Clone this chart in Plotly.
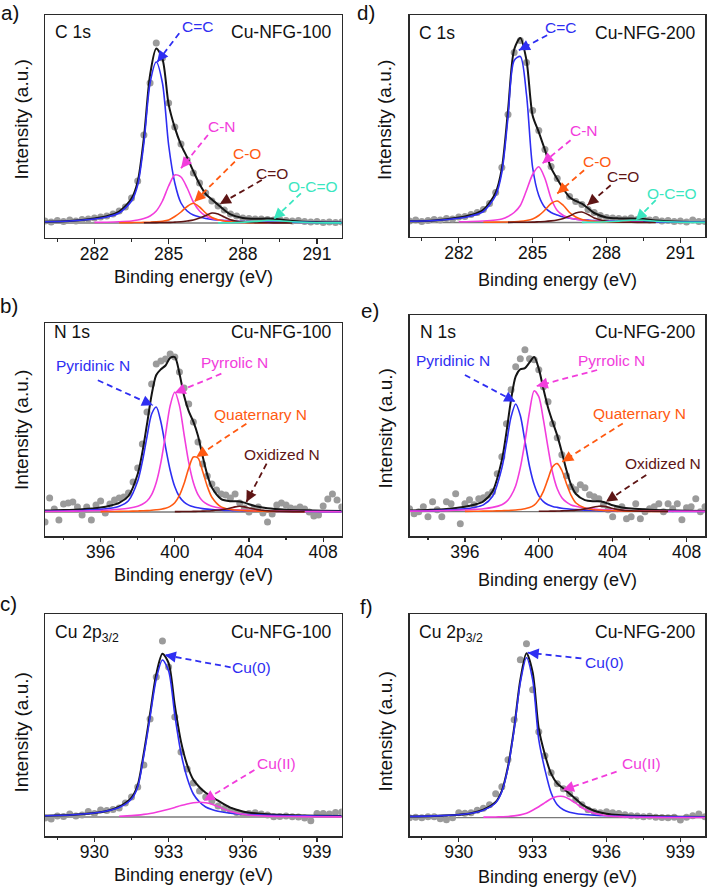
import math
import plotly.graph_objects as go

# ------------------------------------------------------------------ data
# C 1s (panels a, d): fitted curves sampled on this energy grid (eV)
c1s_energy = [280, 281, 282, 282.5, 283, 283.5, 283.75, 284, 284.25, 284.5, 284.75, 285,
              285.25, 285.5, 285.75, 286, 286.25, 286.5, 286.75, 287, 287.25, 287.5, 288,
              288.5, 289, 289.5, 290, 291, 292]
a_cc = [1.2, 2, 4, 6, 10, 22, 38, 80, 140, 161, 140, 78, 40, 20, 12, 8, 6, 4.5, 3.5, 3, 2.5,
        2, 1.5, 1.2, 1, 0.8, 0.7, 0.5, 0.4]
a_cn = [None, None, 0.6, 0.8, 1.2, 2, 3, 4.5, 7, 12, 22, 37, 48, 46, 35, 21, 12, 7, 4.5, 3,
        2.3, 1.8, 1.1, 0.7, 0.5, 0.4, None, None, None]
a_co = [None, None, None, None, 0.3, 0.4, 0.5, 0.6, 0.8, 1.1, 1.7, 3, 6.5, 11, 16.5, 19.7, 16,
        10, 5.5, 3.2, 2, 1.3, 0.6, 0.3, 0.2, None, None, None, None]
a_cdo = [None, None, None, None, None, None, None, 0.2, 0.3, 0.4, 0.5, 0.6, 0.9, 1.2, 2, 3, 5,
         7.5, 10, 9, 6, 3.2, 1.0, 0.4, 0.2, 0.1, 0.1, None, None]
a_occo = [None] * 19 + [0.1, 0.2, 0.3, 0.8, 1.6, 2.5, 2.2, 1.2, 0.3, 0.1]
a_sum = [1.2, 2.0, 4.6, 6.8, 11.5, 24.4, 41.5, 85.3, 148.1, 174.5, 164.2, 118.6, 95.4, 78.2,
         65.5, 51.7, 39, 29, 23.5, 18.3, 13, 8.6, 5, 4.2, 4.4, 3.5, 2.0, 0.8, 0.5]

d_cc = [1.2, 2, 4.2, 6.5, 11, 27, 50, 105, 162, 166, 128, 55, 27, 15, 10, 7.5, 5.5, 4.3, 3.4,
        2.8, 2.4, 2, 1.5, 1.2, 0.9, 0.7, 0.6, 0.5, 0.4]
d_cn = [None, None, 0.7, 1, 1.5, 2.5, 3.5, 6, 10, 17, 32, 48, 55.7, 44, 24, 12, 7, 4.5, 3.2,
        2.4, 1.9, 1.5, 1, 0.7, 0.5, 0.4, None, None, None]
d_co = [None, None, None, None, 0.3, 0.4, 0.45, 0.5, 0.8, 1.2, 2, 3.5, 7, 12.5, 19, 21.5, 17,
        10, 5.5, 3, 1.8, 1.2, 0.6, 0.3, 0.2, None, None, None, None]
d_cdo = [None, None, None, None, None, None, None, 0.15, 0.2, 0.25, 0.3, 0.4, 0.7, 1, 1.6,
         2.5, 4, 6.5, 9.5, 10.5, 8, 4.5, 1.3, 0.5, 0.2, 0.1, 0.1, None, None]
d_occo = [None] * 19 + [0.1, 0.2, 0.3, 0.7, 1.4, 2.2, 2.2, 1.3, 0.3, 0.1]
d_sum = [1.2, 2, 4.9, 7.5, 12.8, 29.9, 54, 111.7, 173, 184.5, 162.3, 106.9, 90.4, 72.5, 54.6,
         43.5, 33.5, 25.3, 21.6, 18.8, 14.3, 9.5, 5.1, 4.1, 4.0, 3.4, 2.0, 0.8, 0.5]

# C 1s measured points
c1s_pts_energy = [280, 280.25, 280.5, 280.75, 281, 281.25, 281.5, 281.75, 282, 282.25, 282.5,
                  282.75, 283, 283.25, 283.5, 283.75, 284, 284.25, 284.5, 284.75, 285, 285.25,
                  285.5, 285.75, 286, 286.25, 286.5, 286.75, 287, 287.25, 287.5, 287.75, 288,
                  288.25, 288.5, 288.75, 289, 289.25, 289.5, 289.75, 290, 290.25, 290.5,
                  290.75, 291, 291.25, 291.5, 291.75, 292]
a_pts = [2, 1, 2.5, 1.5, 3, 2, 3.5, 4, 5, 6, 7, 9, 12, 16, 25, 42, 88, 140, 180, 165, 120, 96,
         79, 63, 50, 40, 30, 22, 17, 13, 9, 7, 5, 4.5, 4, 4, 3.5, 3, 3.5, 2.5, 2, 2.5, 1.5, 1,
         1.5, 0.5, 1, 0.5, 1]
d_pts = [1.5, 2.5, 1, 2, 3, 2.5, 4, 3.5, 5.5, 6, 8, 10, 13, 19, 30, 55, 108, 170, 182, 160,
         112, 92, 73, 56, 44, 34, 26, 21, 18, 13, 10, 7, 5, 4.5, 4, 3.5, 4.5, 3, 3.5, 2.5, 3,
         1.5, 2, 1, 1.5, 0.5, 2.5, 1, 1]

# N 1s (panels b, e)
n1s_energy = [393, 394, 395, 396, 396.5, 397, 397.5, 398, 398.25, 398.5, 398.75, 399, 399.25,
              399.5, 399.75, 400, 400.25, 400.5, 400.75, 401, 401.25, 401.5, 401.75, 402,
              402.5, 403, 403.25, 403.5, 403.75, 404, 404.5, 405, 406, 407, 408, 409]
b_pyridinic = [0.7, 1.0, 1.5, 2.6, 3.7, 5.8, 11.3, 31, 50.4, 75.2, 98, 105, 90, 65, 41.8, 25.2,
               15.2, 9.8, 6.9, 5.2, 4.2, 3.4, 2.9, 2.5, 1.85, 1.45, 1.3, 1.2, 1.1, 1.0, 0.85,
               0.75, 0.6, 0.5, 0.4, 0.35]
b_pyrrolic = [0.5, 0.7, 1.0, 1.55, 2.0, 2.7, 3.8, 5.8, 7.7, 11, 17.4, 29.5, 49.6, 77.5, 106.4,
              120, 106.4, 77.5, 49.6, 29.5, 17.4, 11, 7.7, 5.8, 3.8, 2.7, 2.3, 2.0, 1.75, 1.55,
              1.25, 1.0, 0.7, 0.5, 0.4, 0.3]
b_quaternary = [None, None, None, 0.38, 0.47, 0.6, 0.77, 1.0, 1.2, 1.4, 1.7, 2.2, 2.8, 3.7,
                5.6, 9.3, 16.6, 28.5, 43.8, 55, 54, 40.7, 25.8, 14.8, 5.1, 2.6, 2.0, 1.65, 1.4,
                1.15, 0.85, 0.65, 0.45, 0.3, None, None]
b_oxidized = [None] * 15 + [0.37, 0.4, 0.45, 0.5, 0.6, 0.7, 0.85, 1.0, 1.3, 2.2, 4.0, 5.1, 5.7,
                            5.1, 4.0, 2.2, 1.3, 0.6, 0.35, None, None]
b_sum = [1.4, 1.95, 2.85, 4.6, 6.3, 9.2, 16.0, 38.0, 59.5, 87.8, 117.3, 137.0, 142.7, 146.5,
         154.1, 154.9, 138.6, 116.3, 100.8, 90.3, 76.3, 56.0, 37.4, 24.4, 12.95, 10.75, 10.7,
         10.55, 9.35, 7.7, 5.15, 3.7, 2.35, 1.65, 1.27, 1.03]

e_pyridinic = [0.68, 0.97, 1.56, 2.85, 4.2, 6.8, 15.4, 43.6, 68.5, 94.8, 107.7, 96.2, 70.7,
               45.2, 27.1, 15.9, 10.1, 7.0, 5.3, 4.3, 3.5, 2.9, 2.4, 2.1, 1.6, 1.25, 1.1, 1.0,
               0.9, 0.82, 0.69, 0.6, 0.44, 0.34, 0.27, 0.22]
e_pyrrolic = [0.56, 0.77, 1.1, 1.77, 2.3, 3.0, 4.3, 7.0, 10.0, 16, 26, 44, 70, 100, 121, 115,
              92, 64, 39, 23, 14, 9.5, 6.8, 5.4, 3.6, 2.6, 2.2, 1.9, 1.7, 1.5, 1.2, 0.97, 0.7,
              0.52, 0.4, 0.32]
e_quaternary = [None, None, None, 0.35, 0.43, 0.53, 0.72, 0.97, 1.13, 1.35, 1.64, 2.2, 2.9,
                4.1, 6.5, 11.8, 20.3, 32.8, 44.9, 48.1, 41.2, 28, 16.4, 8.9, 3.6, 1.9, 1.55,
                1.26, 1.06, 0.92, 0.69, 0.53, 0.35, 0.24, None, None]
e_oxidized = [None] * 15 + [0.4, 0.44, 0.5, 0.57, 0.68, 0.8, 0.97, 1.2, 1.55, 2.8, 4.7, 5.5,
                            5.5, 4.5, 3.2, 1.6, 1.0, 0.5, 0.3, None, None]
e_sum = [1.3, 1.8, 2.7, 4.97, 6.93, 10.33, 20.42, 51.57, 79.63, 112.15, 135.34, 142.4, 143.6,
         149.3, 154.6, 143.1, 122.84, 104.3, 89.77, 76.08, 59.5, 41.37, 26.8, 17.95, 11.6,
         10.45, 10.35, 9.66, 8.16, 6.44, 4.18, 3.1, 1.99, 1.4, 0.85, 0.7]

n1s_pts_energy = [393, 393.25, 393.5, 393.75, 394, 394.25, 394.5, 394.75, 395, 395.25, 395.5,
                  395.75, 396, 396.25, 396.5, 396.75, 397, 397.25, 397.5, 397.75, 398, 398.25,
                  398.5, 398.75, 399, 399.25, 399.5, 399.75, 400, 400.25, 400.5, 400.75, 401,
                  401.25, 401.5, 401.75, 402, 402.25, 402.5, 402.75, 403, 403.25, 403.5,
                  403.75, 404, 404.25, 404.5, 404.75, 405, 405.25, 405.5, 405.75, 406, 406.25,
                  406.5, 406.75, 407, 407.25, 407.5, 407.75, 408, 408.25, 408.5, 408.75, 409]
b_pts = [-10, 14, 3, -8, 8, 9, 10, 5, -3, 5,
         -8, 7, 11, -1, 8, 12, 14, 15, 19, 30,
         44, 68, 100, 128, 148, 151, 153, 158, 155, 140,
         124, 108, 90, 70, 48, 36, 28, 22, 18, 17,
         14, 18, 9, 4, 0, 3, 5, -1, -10, -2,
         7, 9, 7, 4, 3, 5, 3, 0, -4, -3,
         6, 13, 18, 12, 5]
e_pts = [3, -2, 0, 5, -5, 10, 2, -5, 10, 8,
         18, -12, 8, 12, 7, 13, 14, 17, 20, 38,
         55, 88, 122, 145, 153, 162, 153, 152, 142, 125,
         110, 88, 74, 57, 36, 25, 22, 27, 24, 17,
         15, 13, 7, 2, -5, 3, 5, -7, -5, 8,
         -7, 0, 3, 5, 8, 0, 8, 3, 8, -8,
         4, 5, 13, 0, 5]

# Cu 2p3/2 (panels c, f)
cu_energy = [928, 929, 930, 930.5, 931, 931.5, 931.75, 932, 932.25, 932.5, 932.75, 933,
             933.25, 933.5, 933.75, 934, 934.25, 934.5, 934.75, 935, 935.5, 936, 936.5, 937,
             938, 939, 940]
c_cu0 = [1.3, 2, 4, 6, 9.5, 18, 30, 62, 100, 138, 157, 146, 102, 64, 39, 23, 15, 10, 7.5, 5.8,
         3.8, 2.8, 2.2, 1.8, 1.3, 1.0, 0.8]
c_cu2 = [None, None, None, None, 0.8, 1.4, 1.9, 2.6, 3.5, 4.7, 6.2, 7.8, 9.5, 11.4, 13, 14.2,
         14.7, 14.2, 12.8, 10.5, 5.5, 2.8, 1.5, 0.9, 0.45, 0.25, 0.15]
c_sum = [1.3, 2, 4, 6, 10.3, 19.4, 31.9, 64.6, 103.5, 142.7, 163.2, 153.8, 111.5, 75.4, 52,
         37.2, 29.7, 24.2, 20.3, 16.3, 9.3, 5.6, 3.7, 2.7, 1.75, 1.25, 0.95]

f_cu0 = [1.2, 1.8, 3, 4.5, 7.5, 15, 26, 50, 88, 135, 160, 138, 78, 48, 25, 13, 8, 5.5, 4.2,
         3.4, 2.4, 1.9, 1.5, 1.3, 1.0, 0.8, 0.6]
f_cu2 = [None, None, None, None, 0.55, 0.75, 0.95, 1.2, 1.8, 2.8, 4.5, 7.5, 11, 15, 19, 21.2,
         21.2, 18.5, 14.5, 10, 4.5, 2.0, 1.1, 0.7, 0.35, 0.2, 0.15]
f_sum = [1.2, 1.8, 3, 4.5, 8.05, 15.75, 26.95, 51.2, 89.8, 137.8, 164.5, 145.5, 89, 63, 44,
         34.2, 29.2, 24, 18.7, 13.4, 6.9, 3.9, 2.6, 2.0, 1.35, 1.0, 0.75]

cu_pts_energy = [928, 928.25, 928.5, 928.75, 929, 929.25, 929.5, 929.75, 930, 930.25, 930.5,
                 930.75, 931, 931.25, 931.5, 931.75, 932, 932.25, 932.5, 932.75, 933, 933.25,
                 933.5, 933.75, 934, 934.25, 934.5, 934.75, 935, 935.25, 935.5, 935.75, 936,
                 936.25, 936.5, 936.75, 937, 937.25, 937.5, 937.75, 938, 938.25, 938.5,
                 938.75, 939, 939.25, 939.5, 939.75, 940]
c_pts = [-1, -2, 1, 0.5, 3, 1, 2, 5.5, 3.5, 7,
         6.5, 7.5, 9, 14, 20, 30, 52, 98, 140, 176,
         150, 100, 65, 48, 34, 26, 20, 16, 11, 8.5,
         6.5, 4.5, 2.5, 3.5, 4.3, 3, 2, 0.3, 0.5, 1,
         0.3, 0, -1, -3.7, 3.5, 3.5, 3, 4.5, 5]
f_pts = [0, 0.5, 0, 1, 1, -1, -2, 0, 5, 4.5,
         5, 7.5, 9.5, 13, 24, 31, 58, 98, 158, 174,
         128, 86, 62, 45, 34, 29, 24, 18, 13, 8,
         6, 5, 6, 5, 4.3, 3, 2, 1.7, 1, 1.5,
         0.5, 0.3, 0, 0.5, -2.3, 0.5, 2, 3.7, 1]

c1s_ticks = [282, 285, 288, 291]
n1s_ticks = [396, 400, 404, 408]
cu_ticks = [930, 933, 936, 939]

# ------------------------------------------------------------------ styles
W, H = 708, 888
FONT = "Liberation Sans, Arial, Helvetica, sans-serif"
BLUE = "#2e2ef2"
MAGENTA = "#f23ddc"
ORANGE = "#ff5a12"
BROWN = "#5e1515"
CYAN = "#3ae6c0"
BLACK = "#151515"
DOT = "#9b9b9b"
FRAME = "#2a2a2a"

fig = go.Figure()

panels = [
    dict(letter="a)", core="C 1s", sample="Cu-NFG-100", box=(45, 341.7, 15, 237.5),
         xr=(280, 292), yr=(-14.5, 208), ticks=c1s_ticks, dt=3,
         grid=c1s_energy, total=a_sum, pts_x=c1s_pts_energy, pts=a_pts,
         comps=[(a_cc, BLUE), (a_cn, MAGENTA), (a_co, ORANGE), (a_cdo, BROWN), (a_occo, CYAN)],
         labels=[("C=C", BLUE, (286.15, 196.3), (285.43, 189.7), (284.54, 161)),
                 ("C-N", MAGENTA, (287.14, 96.3), (286.59, 88), (285.5, 54.7)),
                 ("C-O", ORANGE, (288.16, 69.7), (287.68, 61.3), (286.04, 21.3)),
                 ("C=O", BROWN, (289.18, 49.7), (288.77, 43), (287.07, 19)),
                 ("O-C=O", CYAN, (290.85, 36.3), (290.35, 29.7), (289.25, 4))],
         letter_xy=(10, 12.5), core_xy=(53.3, 31.7), sample_xy=(333.3, 31.7),
         xt_y=277, yt_xy=(21, 119.5)),
    dict(letter="b)", core="N 1s", sample="Cu-NFG-100", box=(45, 341.7, 323, 536),
         xr=(393, 409), yr=(-24, 189), ticks=n1s_ticks, dt=4,
         grid=n1s_energy, total=b_sum, pts_x=n1s_pts_energy, pts=b_pts,
         comps=[(b_pyridinic, BLUE), (b_pyrrolic, MAGENTA), (b_quaternary, ORANGE),
                (b_oxidized, BROWN)],
         labels=[("Pyridinic N", BLUE, (395.58, 146.7), (395.85, 131.7), (398.82, 106.7)),
                 ("Pyrrolic N", MAGENTA, (403.23, 150), (402.51, 138.3), (399.99, 119)),
                 ("Quaternary N", ORANGE, (404.64, 98), (403.86, 88.3), (401.16, 55)),
                 ("Oxidized N", BROWN, (405.76, 58), (404.95, 48.3), (403.86, 10))],
         letter_xy=(9, 305.5), core_xy=(51.7, 331.7), sample_xy=(333.3, 331.7),
         xt_y=575, yt_xy=(21, 430)),
    dict(letter="c)", core="Cu 2p<sub>3/2</sub>", sample="Cu-NFG-100", box=(45, 341.7, 614, 836),
         xr=(928, 940), yr=(-19, 203), ticks=cu_ticks, dt=3,
         grid=cu_energy, total=c_sum, pts_x=cu_pts_energy, pts=c_pts,
         comps=[(c_cu0, BLUE), (c_cu2, MAGENTA)],
         labels=[("Cu(0)", BLUE, (936.36, 149.7), (935.51, 149.7), (932.85, 162)),
                 ("Cu(II)", MAGENTA, (937.35, 53.7), (936.47, 47), (934.42, 16.3))],
         letter_xy=(8, 603.5), core_xy=(53.3, 633), sample_xy=(333.3, 631.7),
         xt_y=875, yt_xy=(21, 732.5)),
    dict(letter="d)", core="C 1s", sample="Cu-NFG-200", box=(409.5, 705, 15, 236.5),
         xr=(280, 292), yr=(-14, 207.5), ticks=c1s_ticks, dt=3,
         grid=c1s_energy, total=d_sum, pts_x=c1s_pts_energy, pts=d_pts,
         comps=[(d_cc, BLUE), (d_cn, MAGENTA), (d_co, ORANGE), (d_cdo, BROWN), (d_occo, CYAN)],
         labels=[("C=C", BLUE, (286.14, 195), (285.59, 187.3), (284.44, 172.3)),
                 ("C-N", MAGENTA, (287.09, 92.3), (286.54, 82.3), (285.39, 59)),
                 ("C-O", ORANGE, (287.63, 60.7), (287.09, 52.3), (286.0, 29)),
                 ("C=O", BROWN, (288.65, 45.7), (288.17, 37.3), (287.22, 17.3)),
                 ("O-C=O", CYAN, (290.67, 29), (290.0, 22.3), (289.19, 2.3))],
         letter_xy=(366, 12.5), core_xy=(417.3, 33.3), sample_xy=(697.3, 33.3),
         xt_y=280, yt_xy=(385, 120)),
    dict(letter="e)", core="N 1s", sample="Cu-NFG-200", box=(409.5, 705, 315, 536),
         xr=(393, 409), yr=(-24.3, 196.7), ticks=n1s_ticks, dt=4,
         grid=n1s_energy, total=e_sum, pts_x=n1s_pts_energy, pts=e_pts,
         comps=[(e_pyridinic, BLUE), (e_pyrrolic, MAGENTA), (e_quaternary, ORANGE),
                (e_oxidized, BROWN)],
         labels=[("Pyridinic N", BLUE, (395.36, 151.7), (396.0, 136.7), (398.73, 110)),
                 ("Pyrrolic N", MAGENTA, (403.95, 151.7), (403.16, 141.7), (399.89, 125.7)),
                 ("Quaternary N", ORANGE, (405.45, 98.3), (404.55, 88.3), (401.27, 50)),
                 ("Oxidized N", BROWN, (406.73, 48.3), (405.82, 36.7), (403.64, 10))],
         letter_xy=(370, 310.5), core_xy=(418, 331.7), sample_xy=(697.3, 331.7),
         xt_y=580, yt_xy=(385, 428.5)),
    dict(letter="f)", core="Cu 2p<sub>3/2</sub>", sample="Cu-NFG-200", box=(409.5, 705, 614, 836),
         xr=(928, 940), yr=(-18.3, 203.7), ticks=cu_ticks, dt=3,
         grid=cu_energy, total=f_sum, pts_x=cu_pts_energy, pts=f_pts,
         comps=[(f_cu0, BLUE), (f_cu2, MAGENTA)],
         labels=[("Cu(0)", BLUE, (935.9, 155.5), (934.98, 159.3), (932.8, 165)),
                 ("Cu(II)", MAGENTA, (937.41, 54.3), (936.41, 46), (934.23, 27.7))],
         letter_xy=(366.5, 606.5), core_xy=(417.3, 633), sample_xy=(697.3, 631.7),
         xt_y=876.7, yt_xy=(385, 731.5)),
]

annotations = []
shapes = []
layout_axes = {}


def px(x):
    return x / W


def py(y):
    return 1 - y / H


for i, p in enumerate(panels, start=1):
    sfx = "" if i == 1 else str(i)
    xref, yref = "x" + sfx, "y" + sfx
    left, right, top, bottom = p["box"]

    # measured points
    fig.add_trace(go.Scatter(x=p["pts_x"], y=p["pts"], mode="markers", xaxis=xref, yaxis=yref,
                             marker=dict(size=7, color=DOT), hoverinfo="skip"))
    # envelope
    fig.add_trace(go.Scatter(x=p["grid"], y=p["total"], mode="lines", xaxis=xref, yaxis=yref,
                             line=dict(color=BLACK, width=2, shape="spline", smoothing=0.8),
                             hoverinfo="skip"))
    # components
    for vals, col in p["comps"]:
        fig.add_trace(go.Scatter(x=p["grid"], y=vals, mode="lines", xaxis=xref, yaxis=yref,
                                 line=dict(color=col, width=1.6, shape="spline", smoothing=0.8),
                                 connectgaps=False, hoverinfo="skip"))

    layout_axes["xaxis" + sfx] = dict(
        domain=[px(left), px(right)], anchor=yref, range=list(p["xr"]),
        showline=True, mirror=True, linecolor=FRAME, linewidth=1.5,
        showgrid=False, zeroline=False,
        tickmode="array", tickvals=p["ticks"], ticks="outside", ticklen=4.5,
        tickwidth=1.3, tickcolor=FRAME, ticklabelstandoff=-5,
        tickfont=dict(family=FONT, size=17.5, color="#111"),
        minor=dict(ticks="outside", ticklen=2.5, tickwidth=1.2, tickcolor=FRAME,
                   tick0=p["ticks"][0] - p["dt"] / 2, dtick=p["dt"] / 2),
    )
    layout_axes["yaxis" + sfx] = dict(
        domain=[py(bottom), py(top)], anchor=xref, range=list(p["yr"]),
        showline=True, mirror=True, linecolor=FRAME, linewidth=1.5,
        showgrid=False, zeroline=False, showticklabels=False, ticks="",
    )

    # horizontal baseline
    shapes.append(dict(type="line", xref=xref + " domain", yref=yref, x0=0, x1=1, y0=0, y1=0,
                       line=dict(color="#7a7a7a", width=1.3), layer="below"))

    # texts
    annotations.append(dict(text=p["letter"], xref="paper", yref="paper",
                             x=px(p["letter_xy"][0]), y=py(p["letter_xy"][1]),
                             xanchor="center", yanchor="middle", showarrow=False,
                             font=dict(family=FONT, size=20.5, color="#111")))
    annotations.append(dict(text=p["core"], xref="paper", yref="paper",
                             x=px(p["core_xy"][0]), y=py(p["core_xy"][1]),
                             xanchor="left", yanchor="middle", showarrow=False,
                             font=dict(family=FONT, size=17.5, color="#111")))
    annotations.append(dict(text=p["sample"], xref="paper", yref="paper",
                             x=px(p["sample_xy"][0]), y=py(p["sample_xy"][1]),
                             xanchor="right", yanchor="middle", showarrow=False,
                             font=dict(family=FONT, size=17.5, color="#111")))
    annotations.append(dict(text="Binding energy (eV)", xref="paper", yref="paper",
                             x=px((left + right) / 2), y=py(p["xt_y"]),
                             xanchor="center", yanchor="middle", showarrow=False,
                             font=dict(family=FONT, size=18, color="#111")))
    annotations.append(dict(text="Intensity (a.u.)", xref="paper", yref="paper",
                             x=px(p["yt_xy"][0]), y=py(p["yt_xy"][1]), textangle=-90,
                             xanchor="center", yanchor="middle", showarrow=False,
                             font=dict(family=FONT, size=19, color="#111")))

    # peak labels with dashed arrows
    kx = (right - left) / (p["xr"][1] - p["xr"][0])
    ky = (bottom - top) / (p["yr"][1] - p["yr"][0])
    for text, col, (lx, ly), (sx, sy), (tx, ty) in p["labels"]:
        annotations.append(dict(text=text, xref=xref, yref=yref, x=lx, y=ly,
                                xanchor="center", yanchor="middle", showarrow=False,
                                font=dict(family=FONT, size=15.5, color=col)))
        shapes.append(dict(type="line", xref=xref, yref=yref, x0=sx, y0=sy, x1=tx, y1=ty,
                           line=dict(color=col, width=1.8, dash="6px,4px")))
        dxp = (sx - tx) * kx
        dyp = -(sy - ty) * ky
        ln = math.hypot(dxp, dyp)
        annotations.append(dict(text="", xref=xref, yref=yref, x=tx, y=ty,
                                ax=dxp / ln * 11, ay=dyp / ln * 11, showarrow=True,
                                arrowhead=2, arrowsize=1.1, arrowwidth=2, arrowcolor=col,
                                standoff=0))

fig.update_layout(
    width=W, height=H, autosize=False,
    margin=dict(l=0, r=0, t=0, b=0),
    paper_bgcolor="white", plot_bgcolor="white",
    showlegend=False,
    font=dict(family=FONT, color="#111"),
    annotations=annotations, shapes=shapes,
    **layout_axes,
)

fig.write_html("out.html",
               config={"displayModeBar": False, "staticPlot": True},
               post_script="document.body.style.margin='0';"
                           "document.body.style.overflow='hidden';")
